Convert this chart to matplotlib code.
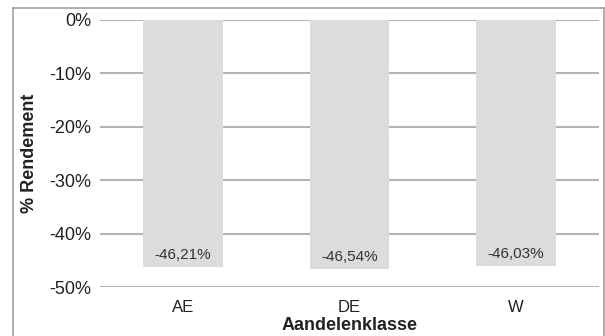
import matplotlib.pyplot as plt
from matplotlib.lines import Line2D

# data
klassen = ["AE", "DE", "W"]
rendement = [-46.21, -46.54, -46.03]
labels = ["-46,21%", "-46,54%", "-46,03%"]
yticks = [0, -10, -20, -30, -40, -50]

plt.rcParams['font.family'] = ['Liberation Sans', 'DejaVu Sans']

fig = plt.figure(figsize=(6.05, 3.36), dpi=100)
ax = fig.add_axes([100 / 605, 1 - 287 / 336, 499 / 605, 267 / 336])

x = range(len(klassen))
ax.bar(x, rendement, width=0.48, color='#dcdcde', zorder=2)
for xi, v, lab in zip(x, rendement, labels):
    ax.annotate(lab, (xi, v), xytext=(0, 8.4), textcoords='offset points',
                ha='center', va='center', fontsize=11, color='#333333', zorder=3)

ax.set_xlim(-0.5, 2.5)
ax.set_ylim(-50, 0)
ax.set_yticks(yticks)
ax.set_yticklabels([f"{t}%" for t in yticks])
ax.set_xticks(list(x))
ax.set_xticklabels(klassen)
ax.yaxis.grid(True, color='#b4b4b4', linewidth=1.5, zorder=1)
ax.set_axisbelow(True)
for s in ax.spines.values():
    s.set_visible(False)
ax.tick_params(axis='both', length=0, colors='#222222')
ax.tick_params(axis='y', pad=6.5, labelsize=13)
ax.tick_params(axis='x', pad=9.5, labelsize=12)

ax.set_ylabel("% Rendement", fontsize=13, fontweight='bold', color='#222222')
ax.yaxis.label.set_va('center')
ax.yaxis.set_label_coords(-71 / 499, 0.5)
ax.set_xlabel("Aandelenklasse", fontsize=13, fontweight='bold', color='#222222')
ax.xaxis.label.set_va('center')
ax.xaxis.set_label_coords(0.5, -(325 - 287) / 267)

# outer frame
fx0, fx1, fy1 = 12.5 / 605, 603.5 / 605, 1 - 7.5 / 336
frame_kw = dict(color='#a0a0a0', linewidth=1.2, transform=fig.transFigure)
fig.add_artist(Line2D([fx0, fx0], [0, fy1], **frame_kw))
fig.add_artist(Line2D([fx0, fx1], [fy1, fy1], **frame_kw))
fig.add_artist(Line2D([fx1, fx1], [0, fy1], **frame_kw))

fig.savefig("out.png", dpi=100)
